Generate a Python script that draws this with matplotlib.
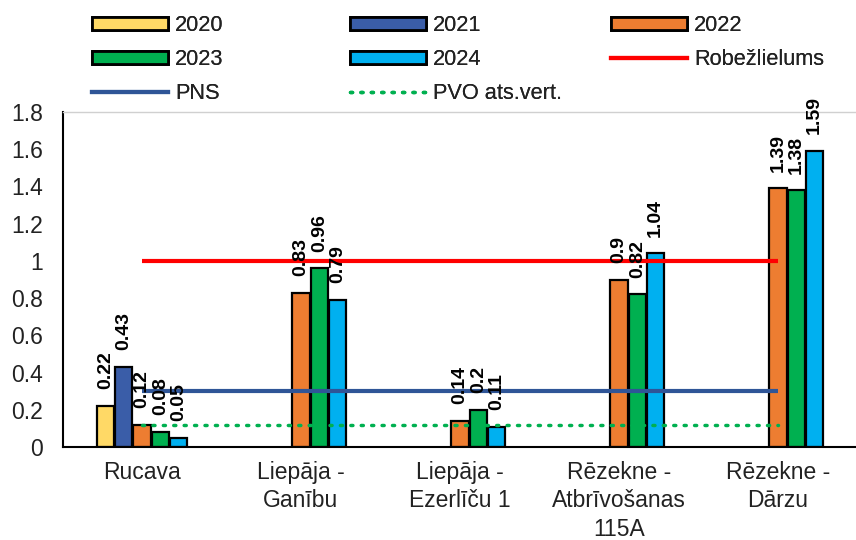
import matplotlib
matplotlib.use("Agg")
import matplotlib.pyplot as plt
from matplotlib.patches import Patch
from matplotlib.lines import Line2D
import numpy as np

plt.rcParams['font.family'] = ['Liberation Sans', 'DejaVu Sans']

# Monitoring sites (category axis)
sites = ["Rucava", "Liepāja -\nGanību", "Liepāja -\nEzerlīču 1",
         "Rēzekne -\nAtbrīvošanas\n115A", "Rēzekne -\nDārzu"]

# Annual values per site (None = no measurement that year)
years = ["2020", "2021", "2022", "2023", "2024"]
v2020 = [0.22, None, None, None, None]
v2021 = [0.43, None, None, None, None]
v2022 = [0.12, 0.83, 0.14, 0.90, 1.39]
v2023 = [0.08, 0.96, 0.20, 0.82, 1.38]
v2024 = [0.05, 0.79, 0.11, 1.04, 1.59]
series = [v2020, v2021, v2022, v2023, v2024]

# Reference levels drawn across the sites
robezlielums = [1.0, 1.0, 1.0, 1.0, 1.0]
pns = [0.3, 0.3, 0.3, 0.3, 0.3]
pvo = [0.12, 0.12, 0.12, 0.12, 0.12]

bar_colors = ["#FFD966", "#3A5DA8", "#ED7D31", "#00B050", "#00B0F0"]

fig = plt.figure(figsize=(8.56, 5.4), dpi=100)
ax = fig.add_axes([62.5 / 856, 93 / 540, 795 / 856, 335 / 540])

x = np.arange(len(sites))
slot = 0.115
width = 0.108
for i, (vals, col) in enumerate(zip(series, bar_colors)):
    offset = (i - 2) * slot
    for xi, v in zip(x, vals):
        if v is None:
            continue
        ax.bar(xi + offset, v, width=width, color=col, edgecolor="black",
               linewidth=1.6, zorder=2)
        ax.annotate(f"{v:g}", (xi + offset, v), xytext=(0, 12),
                    textcoords="offset points", rotation=90,
                    ha="center", va="bottom", fontsize=14,
                    fontweight="bold", zorder=4)

ax.plot(x, robezlielums, color="#FF0000", linewidth=3, zorder=3,
        solid_capstyle="butt")
ax.plot(x, pns, color="#2F5597", linewidth=3, zorder=3,
        solid_capstyle="butt")
ax.plot(x, pvo, color="#00B050", linewidth=2.5, linestyle=(0, (0.6, 2.4)),
        dash_capstyle="round", zorder=3)

ax.set_xlim(-0.5, 4.5)
ax.set_ylim(0, 1.8)
ax.set_yticks([0, 0.2, 0.4, 0.6, 0.8, 1, 1.2, 1.4, 1.6, 1.8])
ax.set_yticklabels(["0", "0.2", "0.4", "0.6", "0.8", "1", "1.2", "1.4",
                    "1.6", "1.8"])
ax.set_xticks(x)
ax.set_xticklabels(sites, fontsize=16.5, linespacing=1.3, color="#222222")
ax.tick_params(axis="y", length=0, pad=14, labelsize=16.5,
               labelcolor="#222222")
ax.tick_params(axis="x", length=0, pad=10)

for s in ("left", "bottom"):
    ax.spines[s].set_color("black")
    ax.spines[s].set_linewidth(1.5)
ax.spines["top"].set_color("#D0D0D0")
ax.spines["top"].set_linewidth(1.0)
ax.spines["right"].set_visible(False)

# Legend laid out in three fixed columns
def patch(c):
    return Patch(facecolor=c, edgecolor="black", linewidth=2)

columns = [
    ([patch(bar_colors[0]), patch(bar_colors[3]),
      Line2D([], [], color="#2F5597", linewidth=3)],
     ["2020", "2023", "PNS"], 92),
    ([patch(bar_colors[1]), patch(bar_colors[4]),
      Line2D([], [], color="#00B050", linewidth=2.5,
             linestyle=(0, (0.6, 2.4)), dash_capstyle="round")],
     ["2021", "2024", "PVO ats.vert."], 350),
    ([patch(bar_colors[2]),
      Line2D([], [], color="#FF0000", linewidth=3)],
     ["2022", "Robežlielums"], 611),
]
for handles, labels, left in columns:
    leg = fig.legend(handles, labels, loc="upper left",
                     bbox_to_anchor=(left / 856, 1 - 15 / 540),
                     frameon=False, fontsize=15.7, borderpad=0,
                     borderaxespad=0, handlelength=3.5, handleheight=0.55,
                     handletextpad=0.32, labelspacing=0.6,
                     labelcolor="#222222")
    fig.add_artist(leg)

fig.savefig("out.png", dpi=100)
